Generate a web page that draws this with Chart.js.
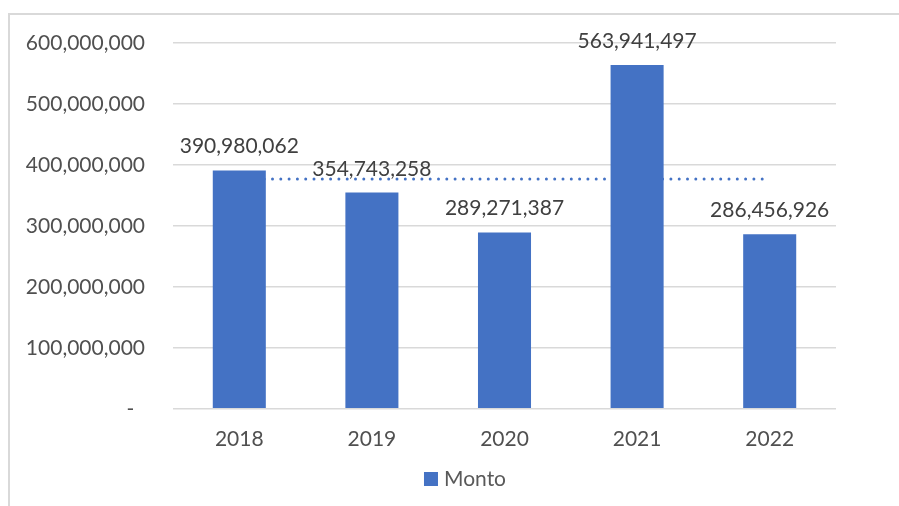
<!DOCTYPE html>
<html>
<head>
<meta charset="utf-8">
<script src="https://cdn.jsdelivr.net/npm/chart.js@4/dist/chart.umd.min.js"></script>
<style>
  html, body { margin: 0; padding: 0; background: #fff; overflow: hidden; }
  #wrap { position: relative; width: 899px; height: 506px; }
  #frame { position: absolute; left: 8px; top: 13px; width: 1000px; height: 1000px;
           border-left: 2px solid #d9d9d9; border-top: 2px solid #d9d9d9; box-sizing: border-box; }
  canvas { position: absolute; left: 0; top: 0; }
</style>
</head>
<body>
<div id="wrap">
  <div id="frame"></div>
  <canvas id="c" width="899" height="506"></canvas>
</div>
<script>
// Yearly amounts
const years = ['2018', '2019', '2020', '2021', '2022'];
const monto = [390980062, 354743258, 289271387, 563941497, 286456926];
const yTickValues = [0, 100000000, 200000000, 300000000, 400000000, 500000000, 600000000];

// Mean of the yearly amounts, shown as a dotted reference line
const promedio = monto.reduce((a, b) => a + b, 0) / monto.length;
const promedioSerie = years.map(() => promedio);

const FONT = 'Lato';
const BAR_COLOR = '#4472C4';
const fmt = v => v.toLocaleString('en-US');

// Value labels above each bar
const valueLabels = {
  id: 'valueLabels',
  afterDatasetsDraw(chart) {
    const meta = chart.getDatasetMeta(0);
    const ctx = chart.ctx;
    ctx.save();
    ctx.font = '21px ' + FONT;
    ctx.fillStyle = '#404040';
    ctx.textAlign = 'center';
    ctx.textBaseline = 'alphabetic';
    meta.data.forEach((bar, i) => {
      ctx.fillText(fmt(monto[i]), bar.x, bar.y - 17);
    });
    ctx.restore();
  }
};

// Legend for the bar series, centred under the whole chart frame
const frameLegend = {
  id: 'frameLegend',
  afterDraw(chart) {
    const ctx = chart.ctx;
    const ds = chart.data.datasets[0];
    const centerX = 465, centerY = 479, box = 14, gap = 6;
    ctx.save();
    ctx.font = '21px ' + FONT;
    const tw = ctx.measureText(ds.label).width;
    const x0 = centerX - (box + gap + tw) / 2;
    ctx.fillStyle = ds.backgroundColor;
    ctx.fillRect(x0, centerY - box / 2, box, box);
    ctx.fillStyle = '#595959';
    ctx.textAlign = 'left';
    ctx.textBaseline = 'middle';
    ctx.fillText(ds.label, x0 + box + gap, centerY);
    ctx.restore();
  }
};

new Chart(document.getElementById('c'), {
  data: {
    labels: years,
    datasets: [
      {
        type: 'bar',
        label: 'Monto',
        data: monto,
        backgroundColor: BAR_COLOR,
        borderWidth: 0,
        categoryPercentage: 1.0,
        barPercentage: 0.4,
        order: 0
      },
      {
        type: 'line',
        label: 'Promedio',
        data: promedioSerie,
        borderColor: BAR_COLOR,
        borderWidth: 3,
        borderDash: [0, 8.3],
        borderCapStyle: 'round',
        pointRadius: 0,
        fill: false,
        order: 1
      }
    ]
  },
  options: {
    responsive: false,
    devicePixelRatio: 1,
    animation: false,
    layout: { padding: { left: 0, right: 63, top: 43, bottom: 44 } },
    plugins: {
      tooltip: { enabled: false },
      legend: { display: false }
    },
    scales: {
      x: {
        grid: { display: false },
        border: { display: false },
        ticks: { color: '#505050', font: { family: FONT, size: 21 }, padding: 10 }
      },
      y: {
        min: 0,
        max: 600000000,
        afterBuildTicks(scale) { scale.ticks = yTickValues.map(v => ({ value: v })); },
        afterFit(scale) { scale.width = 173; },
        grid: { color: '#d9d9d9', lineWidth: 1.5, drawTicks: false },
        border: { display: false },
        ticks: {
          color: '#505050',
          font: { family: FONT, size: 21 },
          padding: 28,
          callback: v => (v === 0 ? '-  ' : fmt(v))
        }
      }
    }
  },
  plugins: [valueLabels, frameLegend]
});
</script>
</body>
</html>
